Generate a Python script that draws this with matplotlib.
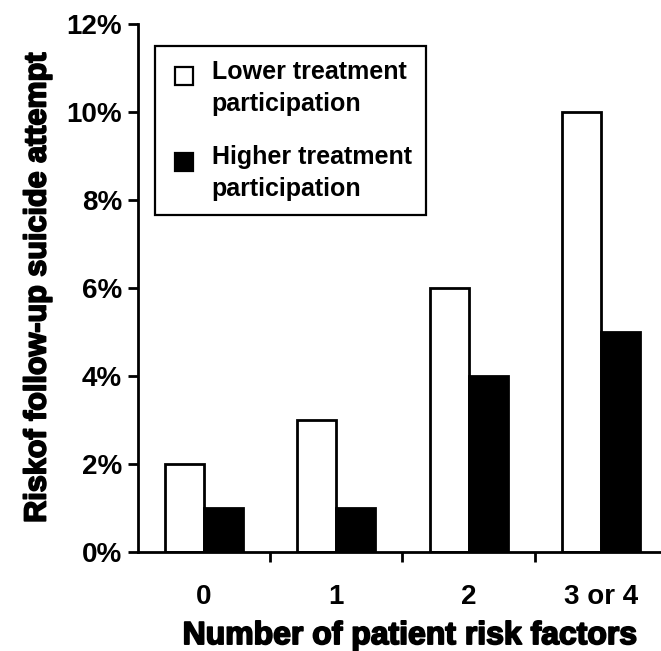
import matplotlib
matplotlib.use("Agg")
import matplotlib.pyplot as plt
import matplotlib.patheffects as pe
from matplotlib.legend_handler import HandlerPatch
from matplotlib.patches import Rectangle
import numpy as np

plt.rcParams["font.family"] = ["Liberation Sans", "DejaVu Sans"]

categories = ["0", "1", "2", "3 or 4"]
lower_participation = [2, 3, 6, 10]
higher_participation = [1, 1, 4, 5]
series_names = ["Lower treatment\nparticipation", "Higher treatment\nparticipation"]
y_ticks = [0, 2, 4, 6, 8, 10, 12]

DPI = 100
LEG_FS = 18
LEG_LS = 1.43

fig = plt.figure(figsize=(6.61, 6.51), dpi=DPI)
ax = fig.add_axes([138 / 661, 99 / 651, 1 - 138 / 661, 528 / 651])

x = np.arange(len(categories))
w = 0.295
b1 = ax.bar(x - w / 2, lower_participation, w, color="white", edgecolor="black",
            linewidth=2, label=series_names[0])
b2 = ax.bar(x + w / 2, higher_participation, w, color="black", edgecolor="black",
            linewidth=2, label=series_names[1])

ax.set_xlim(-0.5, 3.455)
ax.set_ylim(0, 12)
ax.set_yticks(y_ticks)
ax.set_yticklabels([f"{v}%" for v in y_ticks], fontsize=20, fontweight="bold")
ax.set_xticks(x[:-1] + 0.5)
ax.set_xticklabels([])
ax.set_xticks(x, minor=True)
ax.set_xticklabels(categories, minor=True, fontsize=20, fontweight="bold")
ax.tick_params(axis="x", which="minor", length=0, pad=23)
ax.tick_params(axis="x", which="major", direction="out", length=7.5, width=2)
ax.tick_params(axis="y", direction="out", length=7.5, width=2, pad=4)

for s in ["top", "right"]:
    ax.spines[s].set_visible(False)
for s in ["left", "bottom"]:
    ax.spines[s].set_linewidth(2)

stroke = [pe.withStroke(linewidth=1.3, foreground="black")]
ax.set_xlabel("Number of patient risk factors", fontsize=23, fontweight="bold",
              labelpad=8, path_effects=stroke)
ax.xaxis.label.set_x(0.52)
ax.set_ylabel("Riskof follow-up suicide attempt", fontsize=22, fontweight="bold",
              labelpad=10, path_effects=stroke)

# legend square sits beside the first line of each two-line label
line_shift = 8.6  # points
sq = 0.72 * LEG_FS


def first_line_square(legend, orig_handle, xdescent, ydescent, width, height, fontsize):
    return Rectangle((-xdescent + width - sq, -ydescent + line_shift), sq, sq)


h1, h2 = b1.patches[0], b2.patches[0]
handler = HandlerPatch(patch_func=first_line_square)
leg = ax.legend(handles=[h1, h2], labels=series_names, loc="upper left",
                bbox_to_anchor=(155 / 661, 1 - 46 / 651), bbox_transform=fig.transFigure,
                borderaxespad=0, prop={"weight": "bold", "size": LEG_FS},
                frameon=True, fancybox=False, edgecolor="black", framealpha=1,
                handlelength=0.96, handleheight=0.7, handletextpad=0.76,
                labelspacing=1.16, borderpad=0.55,
                handler_map={h1: handler, h2: handler})
leg.get_frame().set_linewidth(1.6)
for t in leg.get_texts():
    t.set_linespacing(LEG_LS)
for h in leg.legend_handles:
    h.set_linewidth(1.6)

fig.savefig("out.png", dpi=DPI)
